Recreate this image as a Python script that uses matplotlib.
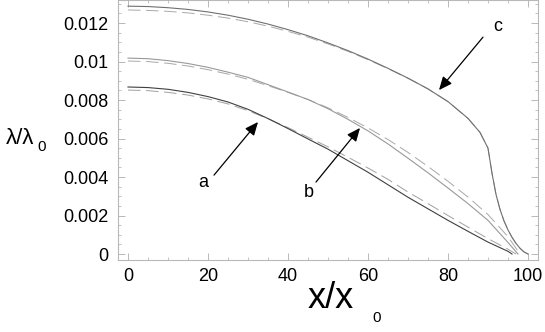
import numpy as np
import matplotlib
matplotlib.use("Agg")
import matplotlib.pyplot as plt
from matplotlib.ticker import MultipleLocator

plt.rcParams['font.family'] = ['Liberation Sans', 'DejaVu Sans']
plt.rcParams['lines.scale_dashes'] = False

# curve a
xa = [0, 5, 10, 15, 20, 25, 30, 35, 40, 45, 50, 55, 60, 65, 70, 75, 80, 85, 90, 95, 96]
ya = [0.00868, 0.00865, 0.00856, 0.00840, 0.00818, 0.00790, 0.00752, 0.00704, 0.00652,
      0.00598, 0.00545, 0.00485, 0.00425, 0.00360, 0.00295, 0.00235, 0.00175, 0.00118,
      0.00062, 0.00014, 0.0]
xa_d = [0, 5, 10, 15, 20, 25, 30, 35, 40, 45, 50, 55, 60, 65, 70, 75, 80, 85, 90, 95, 97]
ya_d = [0.00852, 0.00849, 0.00840, 0.00826, 0.00806, 0.00780, 0.00745, 0.00703, 0.00657,
        0.00607, 0.00557, 0.00503, 0.00447, 0.00388, 0.00322, 0.00262, 0.00200, 0.00140,
        0.00080, 0.00025, 0.0]

# curve b
xb = [0, 5, 10, 15, 20, 25, 30, 35, 40, 45, 50, 55, 60, 65, 70, 75, 80, 85, 90, 95, 97.5]
yb = [0.01018, 0.01015, 0.01005, 0.00990, 0.00970, 0.00945, 0.00918, 0.00880, 0.00842,
      0.00803, 0.00755, 0.00700, 0.00640, 0.00572, 0.00498, 0.00422, 0.00343, 0.00262,
      0.00175, 0.00060, 0.0]
xb_d = [0, 5, 10, 15, 20, 25, 30, 35, 40, 45, 50, 55, 60, 65, 70, 75, 80, 85, 90, 95, 98]
yb_d = [0.01003, 0.01000, 0.00991, 0.00977, 0.00958, 0.00935, 0.00908, 0.00875, 0.00840,
        0.00803, 0.00760, 0.00710, 0.00655, 0.00595, 0.00528, 0.00455, 0.00378, 0.00296,
        0.00205, 0.00090, 0.0]

# curve c
xc = [0, 5, 10, 15, 20, 25, 30, 35, 40, 45, 50, 55, 60, 65, 70, 75, 80, 85, 88, 90,
      91, 92, 93, 94, 95, 96, 97, 98, 99, 100]
yc = [0.01288, 0.01286, 0.01280, 0.01271, 0.01258, 0.01241, 0.01220, 0.01195, 0.01166,
      0.01134, 0.01097, 0.01057, 0.01013, 0.00965, 0.00914, 0.00858, 0.00792, 0.00705,
      0.00632, 0.00550, 0.00420, 0.00310, 0.00232, 0.00172, 0.00125, 0.00087, 0.00055,
      0.00030, 0.00011, 0.0]
yc_d = [0.01268, 0.01266, 0.01261, 0.01253, 0.01241, 0.01226, 0.01207, 0.01184, 0.01157,
        0.01127, 0.01092, 0.01053, 0.01010, 0.00963, 0.00913, 0.00858, 0.00792, 0.00705,
        0.00632, 0.00550, 0.00420, 0.00310, 0.00232, 0.00172, 0.00125, 0.00087, 0.00055,
        0.00030, 0.00011, 0.0]

# labels: (text, text pos, arrow tail, arrow tip)
labels = ['a', 'b', 'c']
label_pos = [(18.75, 0.00374), (45.25, 0.00322), (92.5, 0.01184)]
arrow_tail = [(21.5, 0.0041), (47.0, 0.00374), (88.75, 0.01127)]
arrow_tip = [(32.5, 0.00686), (58.0, 0.00655), (77.75, 0.00852)]

fig = plt.figure(figsize=(5.45, 3.32), dpi=100)
ax = fig.add_axes([118/545, 72/332, 420/545, 260/332])

dash = (0, (9, 4))
ax.plot(xa_d, ya_d, color='#a0a0a0', lw=0.7, ls=dash)
ax.plot(xb_d, yb_d, color='#a8a8a8', lw=0.7, ls=dash)
ax.plot(xc, yc_d, color='#a8a8a8', lw=0.7, ls=dash)
ax.plot(xa, ya, color='#404040', lw=0.8)
ax.plot(xb, yb, color='#999999', lw=0.8)
ax.plot(xc, yc, color='#707070', lw=0.8)

for lab, tp, tail, tip in zip(labels, label_pos, arrow_tail, arrow_tip):
    ax.annotate('', xy=tip, xytext=tail,
                arrowprops=dict(arrowstyle='-|>,head_length=0.8,head_width=0.35',
                                color='black', lw=0.9, shrinkA=0, shrinkB=0))
    ax.text(tp[0], tp[1], lab, fontsize=13, ha='center', va='center')

ax.set_xlim(-2.5, 102.5)
ax.set_ylim(-0.00031, 0.0132)
ax.xaxis.set_major_locator(MultipleLocator(20))
ax.xaxis.set_minor_locator(MultipleLocator(5))
ax.yaxis.set_major_locator(MultipleLocator(0.002))
ax.yaxis.set_minor_locator(MultipleLocator(0.0005))
ax.set_yticks([0, 0.002, 0.004, 0.006, 0.008, 0.01, 0.012])
ax.set_yticklabels(['0', '0.002', '0.004', '0.006', '0.008', '0.01', '0.012'])

for s in ax.spines.values():
    s.set_color('#b8b8b8')
    s.set_linewidth(0.8)
ax.tick_params(which='both', direction='in', top=True, right=True,
               color='#b8b8b8', labelsize=13)
ax.tick_params(which='major', length=5, width=0.7)
ax.tick_params(which='minor', length=2.5, width=0.6)
ax.tick_params(axis='y', pad=7)
ax.tick_params(axis='x', pad=6)

fig.text(20/545, 1 - 139/332, 'λ/λ', fontsize=16, ha='center', va='center')
fig.text(42/545, 1 - 147/332, '0', fontsize=11, ha='center', va='center')
fig.text(331/545, 1 - 298/332, 'x/x', fontsize=26, ha='center', va='center')
fig.text(377/545, 1 - 318/332, '0', fontsize=11, ha='center', va='center')

fig.savefig('out.png', dpi=100)
